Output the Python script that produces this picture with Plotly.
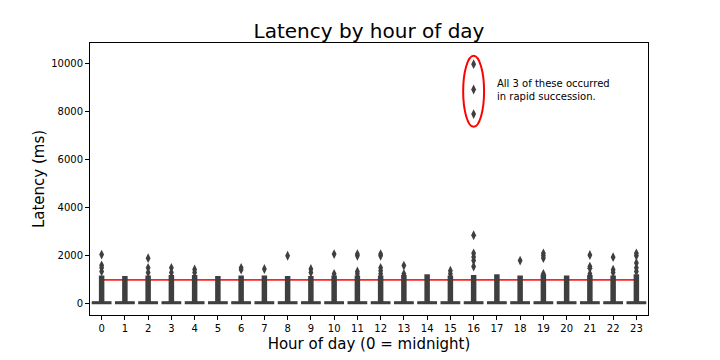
import plotly.graph_objects as go

hours = list(range(24))
tick_labels = [str(h) for h in hours]
y_ticks = [0, 2000, 4000, 6000, 8000, 10000]
y_tick_labels = ["0", "2000", "4000", "6000", "8000", "10000"]

# box statistics per hour (ms)
q1 = [10] * 24
median = [40] * 24
q3 = [90] * 24
lower_fence = [0] * 24
upper_fence = [250] * 24

# dense cloud of outliers (range) per hour
dense_lo = [0] * 24
dense_hi = [1180, 1160, 1180, 1200, 1200, 1160, 1180, 1180, 1160, 1160, 1180, 1180,
            1180, 1200, 1230, 1180, 1200, 1230, 1180, 1230, 1180, 1200, 1180, 1230]

# isolated outliers per hour (ms)
outliers = {
    0: [2050, 1600, 1500, 1350],
    1: [],
    2: [1900, 1500, 1300],
    3: [1500, 1300],
    4: [1430, 1300],
    5: [],
    6: [1500, 1420],
    7: [1450],
    8: [2000],
    9: [1450, 1300],
    10: [2070, 1250],
    11: [2070, 2000, 1350, 1250],
    12: [2070, 2000, 1500, 1380, 1250],
    13: [1590, 1250],
    14: [],
    15: [1380, 1250],
    16: [9950, 8900, 7880, 2850, 2100, 1950, 1800, 1550],
    17: [],
    18: [1800],
    19: [2100, 2000, 1900, 1250],
    20: [],
    21: [2030, 1550, 1480, 1250],
    22: [1940, 1420, 1300],
    23: [2100, 2000, 1700, 1500, 1350],
}

threshold = 1000
note = "All 3 of these occurred<br>in rapid succession."
note_x, note_y = 16.93, 8880
ring_x = (15.55, 16.45)
ring_y = (7350, 10300)

dark = "#3f3f3f"
font = "DejaVu Sans"

# the page body adds an 8px margin, so the figure is 8px smaller
W, H = 712, 352

fig = go.Figure()

# threshold line
fig.add_trace(go.Scatter(
    x=[hours[0], hours[-1]], y=[threshold, threshold], mode="lines",
    line=dict(color="#f22", width=1.6), hoverinfo="skip", showlegend=False))

# dense outlier bands
bx, by = [], []
for h, lo, hi in zip(hours, dense_lo, dense_hi):
    bx += [h, h, None]
    by += [lo, hi, None]
fig.add_trace(go.Scatter(x=bx, y=by, mode="lines",
                         line=dict(color=dark, width=5.5), showlegend=False, hoverinfo="skip"))

# boxes
fig.add_trace(go.Box(
    x=hours, q1=q1, median=median, q3=q3, lowerfence=lower_fence, upperfence=upper_fence,
    width=0.8, whiskerwidth=0, fillcolor=dark, line=dict(color=dark, width=1.2),
    boxpoints=False, showlegend=False))

# isolated outliers
ox, oy = [], []
for h in hours:
    for v in outliers[h]:
        ox.append(h)
        oy.append(v)
fig.add_trace(go.Scatter(x=ox, y=oy, mode="markers",
                         marker=dict(symbol="diamond-tall", size=7, color=dark, line=dict(width=0)),
                         showlegend=False))

fig.add_shape(type="circle", xref="x", yref="y",
              x0=ring_x[0], x1=ring_x[1], y0=ring_y[0], y1=ring_y[1],
              line=dict(color="red", width=2))

fig.add_annotation(x=note_x, y=note_y, xref="x", yref="y", text=note, showarrow=False,
                   xanchor="left", yanchor="middle", align="left",
                   font=dict(family=font, size=10, color="black"))

fig.update_layout(
    width=W, height=H,
    margin=dict(l=82, r=72, t=35, b=45, autoexpand=False),
    paper_bgcolor="white", plot_bgcolor="white",
    font=dict(family=font, color="black"),
    title=dict(text="Latency by hour of day", x=361 / W, xanchor="center",
               y=1 - 23 / H, yanchor="middle", yref="container",
               font=dict(family=font, size=20, color="black")),
    showlegend=False,
)
fig.update_xaxes(range=[-0.5, 23.5], tickmode="array", tickvals=hours, ticktext=tick_labels,
                 automargin=False,
                 showgrid=False, zeroline=False, showline=True, linecolor="black", linewidth=1,
                 mirror=True, ticks="outside", ticklen=4, tickcolor="black",
                 tickfont=dict(family=font, size=10, color="black"),
                 title=dict(text="Hour of day (0 = midnight)", standoff=5,
                            font=dict(family=font, size=15, color="black")))
fig.update_yaxes(range=[-460, 10830], tickmode="array", tickvals=y_ticks, ticktext=y_tick_labels,
                 automargin=False,
                 showgrid=False, zeroline=False, showline=True, linecolor="black", linewidth=1,
                 mirror=True, ticks="outside", ticklen=4, tickcolor="black",
                 tickfont=dict(family=font, size=10, color="black"),
                 title=dict(text="Latency (ms)", standoff=2,
                            font=dict(family=font, size=15, color="black")))

fig.write_html("out.html")
